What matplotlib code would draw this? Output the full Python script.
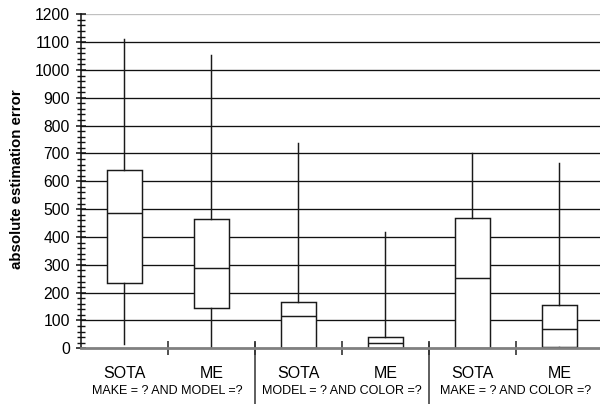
import matplotlib
matplotlib.use('Agg')
import matplotlib.pyplot as plt
from matplotlib.ticker import MultipleLocator, FixedLocator, NullFormatter
from matplotlib.transforms import blended_transform_factory
from matplotlib.lines import Line2D

plt.rcParams['font.family'] = ['Liberation Sans', 'DejaVu Sans']

# Estimation method per box and the query each pair belongs to
methods = ['SOTA', 'ME', 'SOTA', 'ME', 'SOTA', 'ME']
queries = ['MAKE = ? AND MODEL =?', 'MODEL = ? AND COLOR =?', 'MAKE = ? AND COLOR =?']

# Box statistics (absolute estimation error)
whisker_low = [16, 0, 0, 0, 0, 0]
q1 = [234, 144, 0, 2, 1, 6]
median = [486, 289, 115, 19, 254, 70]
q3 = [640, 464, 166, 40, 469, 155]
whisker_high = [1112, 1054, 738, 418, 700, 664]

y_ticks = list(range(0, 1201, 100))

fig = plt.figure(figsize=(6.0, 4.04), dpi=100)
W, H = 600.0, 404.0
left_px, right_px = 80.7, 603.0
top_px, bottom_px = 14.3, 348.3
ax = fig.add_axes([left_px / W, 1 - bottom_px / H,
                   (right_px - left_px) / W, (bottom_px - top_px) / H])

positions = list(range(len(methods)))
stats = []
for i in positions:
    stats.append(dict(whislo=whisker_low[i], q1=q1[i], med=median[i],
                      q3=q3[i], whishi=whisker_high[i], fliers=[]))

# horizontal reference lines
for v in y_ticks[1:]:
    ax.axhline(v, color='#c0c0c0' if v == y_ticks[-1] else '#111111',
               lw=0.95, zorder=1)

ink = '#1a1a1a'
ax.bxp(stats, positions=positions, widths=0.4, patch_artist=True,
       showcaps=False, showfliers=False, manage_ticks=False,
       boxprops=dict(facecolor='white', edgecolor=ink, linewidth=1.05),
       medianprops=dict(color=ink, linewidth=1.05),
       whiskerprops=dict(color=ink, linewidth=1.05), zorder=3)

ax.set_xlim(-0.5, len(methods) - 0.5)
ax.set_ylim(0, 1200)

# y axis
ax.yaxis.set_major_locator(FixedLocator(y_ticks))
ax.yaxis.set_minor_locator(MultipleLocator(20))
ax.tick_params(axis='y', which='major', direction='inout', length=7.4,
               width=1.1, labelsize=11.3, pad=4, color='#111111')
ax.tick_params(axis='y', which='minor', direction='inout', length=6,
               width=1.0, color='#111111')

# x axis: boundary ticks (major) and category labels (minor)
ax.xaxis.set_major_locator(FixedLocator([p + 0.5 for p in positions[:-1]]))
ax.xaxis.set_major_formatter(NullFormatter())
ax.xaxis.set_minor_locator(FixedLocator(positions))
ax.set_xticks(positions, methods, minor=True)
ax.tick_params(axis='x', which='major', direction='inout', length=10,
               width=1.1, color='#222222')
ax.tick_params(axis='x', which='minor', length=0, labelsize=11.5, pad=12.5)

for side in ['top', 'right']:
    ax.spines[side].set_visible(False)
ax.spines['left'].set_color('#111111')
ax.spines['left'].set_linewidth(1.1)
ax.spines['bottom'].set_color('#808080')
ax.spines['bottom'].set_linewidth(2)
ax.spines['bottom'].set_zorder(4)

# query group labels and separators
trans = blended_transform_factory(ax.transData, ax.transAxes)
for g, q in enumerate(queries):
    ax.text(2 * g + 0.5, -0.128, q, transform=trans, ha='center',
            va='center', fontsize=9)
for g in range(1, len(queries)):
    ax.add_line(Line2D([2 * g - 0.5, 2 * g - 0.5], [0.015, -0.2],
                       transform=trans, color='#333333', lw=1.1,
                       clip_on=False))

fig.text(16.7 / W, 1 - 179.5 / H, 'absolute estimation error', rotation=90,
         ha='center', va='center', fontsize=10.8, fontweight='bold')

fig.savefig('out.png', dpi=100)
